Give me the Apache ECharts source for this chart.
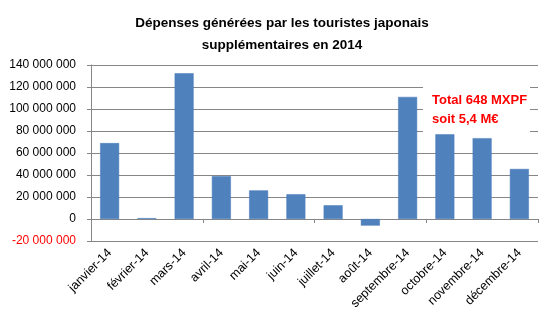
<!DOCTYPE html>
<html><head><meta charset="utf-8">
<script src="https://cdn.jsdelivr.net/npm/echarts@6/dist/echarts.min.js"></script>
<style>html,body{margin:0;padding:0;background:#fff}#c{width:554px;height:325px}</style>
</head><body><div id="c"></div>
<script>
const titleLines = ["Dépenses générées par les touristes japonais", "supplémentaires en 2014"];
const categories = ["janvier-14","février-14","mars-14","avril-14","mai-14","juin-14","juillet-14","août-14","septembre-14","octobre-14","novembre-14","décembre-14"];
const values = [69000000, 800000, 132500000, 39000000, 26000000, 22500000, 12500000, -6000000, 111000000, 77000000, 73500000, 45500000];
const yMin = -20000000, yMax = 140000000, yStep = 20000000;
const noteLines = ["Total 648 MXPF", "soit 5,4 M€"];

function fmt(v){
  const s = Math.abs(v).toString().replace(/\B(?=(\d{3})+(?!\d))/g, " ");
  return v < 0 ? "{neg|-" + s + "}" : s;
}
const font = "'Liberation Sans', Arial, sans-serif";
const chart = echarts.init(document.getElementById('c'), null, {renderer:'canvas'});
chart.setOption({
  animation:false,
  title:{text:titleLines.join("\n"), left:277, top:7, textAlign:'center',
    textStyle:{fontFamily:font, fontSize:13.5, fontWeight:'bold', color:'#000', lineHeight:22}},
  grid:{left:91, right:16, top:65, bottom:84},
  xAxis:[{type:'category', data:categories, position:'bottom',
      axisLine:{show:false, onZero:false}, axisTick:{show:false},
      axisLabel:{rotate:45, margin:10, interval:0, fontFamily:font, fontSize:12.5, color:'#000'}},
    {type:'category', data:categories, position:'bottom',
      axisLine:{show:true, onZero:true, lineStyle:{color:'#868686', width:1}},
      axisTick:{show:true, length:4, lineStyle:{color:'#868686'}},
      axisLabel:{show:false}}],
  yAxis:{type:'value', min:yMin, max:yMax, interval:yStep,
    axisLine:{show:true, lineStyle:{color:'#868686'}},
    axisTick:{show:true, length:4, lineStyle:{color:'#868686'}},
    splitLine:{show:true, lineStyle:{color:'#868686', width:1}},
    axisLabel:{formatter:fmt, margin:15, fontFamily:font, fontSize:12, color:'#000',
      rich:{neg:{color:'#ff0000', fontFamily:font, fontSize:12}}}},
  series:[{type:'bar', data:values, xAxisIndex:0, barWidth:'51%',
    itemStyle:{color:'#4f81bd', borderColor:'#4a7dba', borderWidth:0.5}}],
  graphic:[
    {type:'rect', z:1, shape:{x:423, y:79, width:107, height:53}, style:{fill:'#fff'}},
    {type:'text', z:3, x:432, y:110, style:{text:noteLines.join("\n"), fill:'#ff0000',
      font:"bold 13px 'Liberation Sans', Arial, sans-serif", lineHeight:19, textVerticalAlign:'middle'}}
  ]
});
</script></body></html>
